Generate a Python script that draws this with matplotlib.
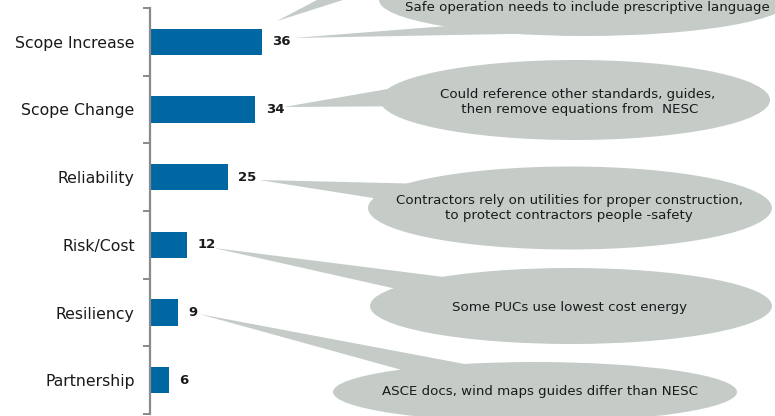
import matplotlib
matplotlib.use("Agg")
import numpy as np
import matplotlib.pyplot as plt
from matplotlib.patches import Ellipse, Polygon

# ---- data ----
categories = ["Scope Increase", "Scope Change", "Reliability", "Risk/Cost", "Resiliency", "Partnership"]
values = [36, 34, 25, 12, 9, 6]

notes = [
    "Safe operation needs to include prescriptive language",
    "Could reference other standards, guides,\n then remove equations from  NESC",
    "Contractors rely on utilities for proper construction,\nto protect contractors people -safety",
    "Some PUCs use lowest cost energy",
    "ASCE docs, wind maps guides differ than NESC",
]

# ---- layout (figure pixels, origin top-left) ----
W, H = 775, 416
BAR = "#0067A3"
BUBBLE = "#C5CCC8"
TXT = "#1a1a1a"

# callout: ellipse centre, width, height, text centre, tail tip, tail base points
callouts = [
    dict(c=(585, 0), w=412, h=72, t=(587, 8), tip=(293, 38), b1=(460, 25), b2=(560, 33)),
    dict(c=(575, 100), w=390, h=80, t=(578, 102), tip=(284, 107), b1=(405, 86), b2=(440, 106)),
    dict(c=(570, 208), w=404, h=83, t=(569, 208), tip=(259, 180), b1=(430, 184), b2=(430, 207)),
    dict(c=(571, 306), w=402, h=76, t=(569, 307), tip=(214, 248), b1=(460, 279), b2=(410, 292)),
    dict(c=(535, 392), w=404, h=60, t=(540, 392), tip=(199, 314), b1=(470, 365), b2=(420, 375)),
]
extra_tail = dict(tip=(277, 21), b1=(355, -20), b2=(406, -20))


def F(x, y):
    return (x / W, 1 - y / H)


fig = plt.figure(figsize=(W / 100, H / 100), dpi=100)
ax = fig.add_axes([150 / W, 2 / H, 625 / W, 406 / H])

ypos = np.arange(len(categories))
ax.barh(ypos, values, height=0.39, color=BAR, zorder=2)
ax.set_xlim(0, 625 / 3.1)
ax.set_ylim(len(categories) - 0.5, -0.5)

for i, v in zip(ypos, values):
    ax.annotate(str(v), (v, i), xytext=(7.5, 0), textcoords="offset points",
                ha="left", va="center", fontsize=9.5, fontweight="bold", color=TXT)

ax.set_yticks(ypos)
ax.set_yticklabels(categories, fontsize=11.3, color=TXT)
ax.set_yticks(np.arange(-0.5, len(categories), 1), minor=True)
ax.tick_params(axis="y", which="major", length=0, pad=11)
ax.tick_params(axis="y", which="minor", length=5, width=1.4, color="#8a8a8a")
ax.xaxis.set_visible(False)
for s in ["top", "right", "bottom"]:
    ax.spines[s].set_visible(False)
ax.spines["left"].set_color("#8a8a8a")
ax.spines["left"].set_linewidth(1.6)

# ---- callouts ----
tails = [(c["tip"], c["b1"], c["b2"]) for c in callouts] + [(extra_tail["tip"], extra_tail["b1"], extra_tail["b2"])]
for tip, b1, b2 in tails:
    fig.add_artist(Polygon([F(*tip), F(*b1), F(*b2)], closed=True, facecolor=BUBBLE,
                           edgecolor="none", transform=fig.transFigure, zorder=3))
for c, note in zip(callouts, notes):
    cx, cy = F(*c["c"])
    fig.add_artist(Ellipse((cx, cy), c["w"] / W, c["h"] / H, facecolor=BUBBLE,
                           edgecolor="none", transform=fig.transFigure, zorder=3))
    tx, ty = F(*c["t"])
    fig.text(tx, ty, note, ha="center", va="center", fontsize=9.6, color=TXT,
             linespacing=1.12, zorder=4)

fig.savefig("out.png", dpi=100)
